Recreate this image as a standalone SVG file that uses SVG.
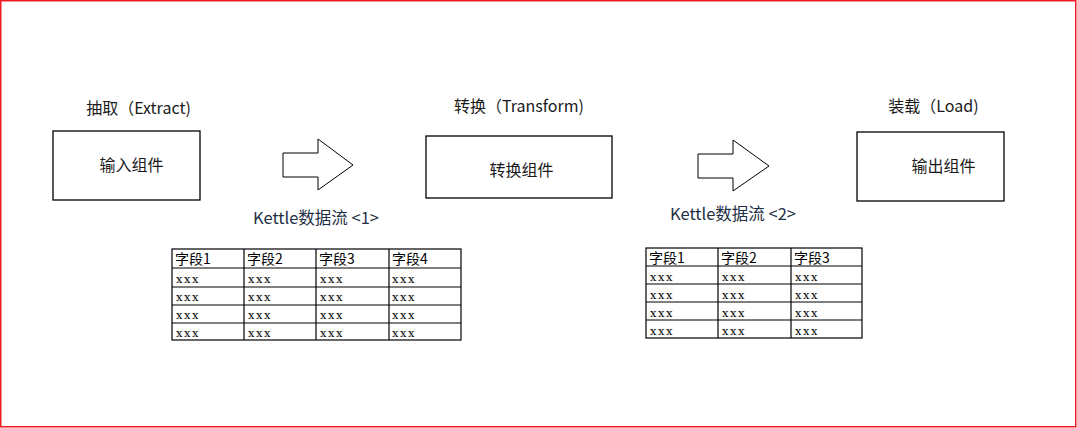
<svg xmlns="http://www.w3.org/2000/svg" width="1077" height="428" viewBox="0 0 1077 428">
<style>
.box{fill:#fff;stroke:#000;stroke-width:1.3}
.arrow{fill:#fff;stroke:#000;stroke-width:1}
.lbl{font-family:"Noto Sans CJK SC","Noto Sans",sans-serif;font-size:16px;fill:#1a1a1a;text-anchor:middle}
.flow{font-family:"Noto Sans CJK SC","Noto Sans",sans-serif;font-size:16.5px;fill:#1e2f44;text-anchor:middle}
.grid{fill:none;stroke:#000;stroke-width:1.2}
.th{font-family:"Noto Sans CJK SC","Noto Sans",sans-serif;font-size:14px;fill:#000}
.td{font-family:"DejaVu Serif","Liberation Serif",serif;font-size:11.5px;letter-spacing:1.5px;fill:#000}
</style>
<rect x="0.75" y="0.75" width="1075" height="426" fill="#fff" stroke="#ee1c25" stroke-width="1.5"/>

<g id="extract">
<text class="lbl" x="138.5" y="114">抽取（Extract)</text>
<rect class="box" x="53" y="131" width="147" height="69"/>
<text class="lbl" x="131.5" y="171">输入组件</text>
</g>

<g id="transform">
<text class="lbl" x="519" y="112">转换（Transform)</text>
<rect class="box" x="426" y="136" width="186" height="62"/>
<text class="lbl" x="521.5" y="176">转换组件</text>
</g>

<g id="load">
<text class="lbl" x="933.5" y="112">装载（Load)</text>
<rect class="box" x="857" y="132" width="147" height="69"/>
<text class="lbl" x="943.5" y="172">输出组件</text>
</g>

<g id="connectors">
<polygon class="arrow" points="283,153 318,153 318,139 353,165 318,190 318,177 283,177"/>
<polygon class="arrow" points="698,154 733,154 733,140 769,166 733,191 733,178 698,178"/>
</g>

<g id="flow1">
<text class="flow" x="316" y="224">Kettle数据流 &lt;1&gt;</text>
<g class="grid">
<rect x="172" y="249" width="289" height="91"/>
<line x1="244" y1="249" x2="244" y2="340"/>
<line x1="316" y1="249" x2="316" y2="340"/>
<line x1="389" y1="249" x2="389" y2="340"/>
<line x1="172" y1="268" x2="461" y2="268"/>
<line x1="172" y1="287" x2="461" y2="287"/>
<line x1="172" y1="305" x2="461" y2="305"/>
<line x1="172" y1="323" x2="461" y2="323"/>
</g>
<text class="th" x="175" y="264">字段1</text>
<text class="th" x="247" y="264">字段2</text>
<text class="th" x="319" y="264">字段3</text>
<text class="th" x="392" y="264">字段4</text>
<g class="td">
<text x="176" y="283">xxx</text><text x="248" y="283">xxx</text><text x="320" y="283">xxx</text><text x="392" y="283">xxx</text>
<text x="176" y="301">xxx</text><text x="248" y="301">xxx</text><text x="320" y="301">xxx</text><text x="392" y="301">xxx</text>
<text x="176" y="319">xxx</text><text x="248" y="319">xxx</text><text x="320" y="319">xxx</text><text x="392" y="319">xxx</text>
<text x="176" y="337">xxx</text><text x="248" y="337">xxx</text><text x="320" y="337">xxx</text><text x="392" y="337">xxx</text>
</g>
</g>

<g id="flow2">
<text class="flow" x="733" y="220">Kettle数据流 &lt;2&gt;</text>
<g class="grid">
<rect x="646" y="248" width="216" height="90"/>
<line x1="718" y1="248" x2="718" y2="338"/>
<line x1="791" y1="248" x2="791" y2="338"/>
<line x1="646" y1="266" x2="862" y2="266"/>
<line x1="646" y1="284" x2="862" y2="284"/>
<line x1="646" y1="302" x2="862" y2="302"/>
<line x1="646" y1="320" x2="862" y2="320"/>
</g>
<text class="th" x="649" y="263">字段1</text>
<text class="th" x="721" y="263">字段2</text>
<text class="th" x="794" y="263">字段3</text>
<g class="td">
<text x="650" y="281">xxx</text><text x="722" y="281">xxx</text><text x="795" y="281">xxx</text>
<text x="650" y="299">xxx</text><text x="722" y="299">xxx</text><text x="795" y="299">xxx</text>
<text x="650" y="317">xxx</text><text x="722" y="317">xxx</text><text x="795" y="317">xxx</text>
<text x="650" y="335">xxx</text><text x="722" y="335">xxx</text><text x="795" y="335">xxx</text>
</g>
</g>
</svg>
